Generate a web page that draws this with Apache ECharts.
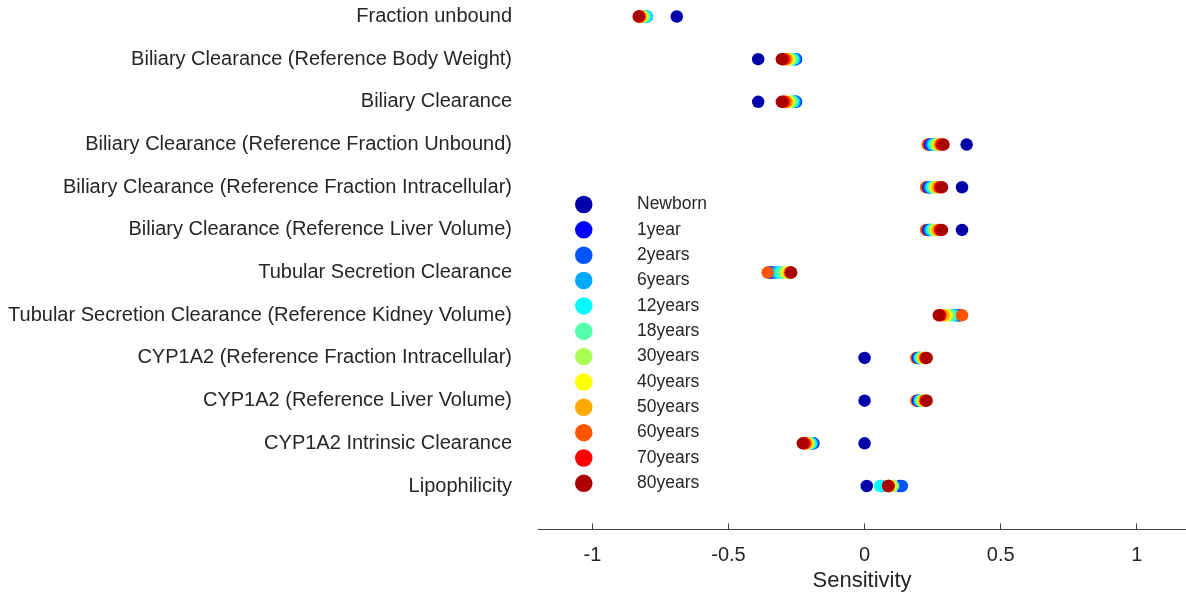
<!DOCTYPE html>
<html>
<head>
<meta charset="utf-8">
<script src="https://cdn.jsdelivr.net/npm/echarts@6/dist/echarts.min.js"></script>
<style>
  html, body { margin: 0; padding: 0; background: #ffffff; }
  #chart { width: 1186px; height: 595px; }
</style>
</head>
<body>
<div id="chart"></div>
<script>
// Parameters, listed top to bottom
const parameters = [
  'Fraction unbound',
  'Biliary Clearance (Reference Body Weight)',
  'Biliary Clearance',
  'Biliary Clearance (Reference Fraction Unbound)',
  'Biliary Clearance (Reference Fraction Intracellular)',
  'Biliary Clearance (Reference Liver Volume)',
  'Tubular Secretion Clearance',
  'Tubular Secretion Clearance (Reference Kidney Volume)',
  'CYP1A2 (Reference Fraction Intracellular)',
  'CYP1A2 (Reference Liver Volume)',
  'CYP1A2 Intrinsic Clearance',
  'Lipophilicity'
];

// Age groups and their colours
const ageGroups = ['Newborn', '1year', '2years', '6years', '12years', '18years',
                   '30years', '40years', '50years', '60years', '70years', '80years'];
const ageColors = ['#0000aa', '#0000ff', '#0055ff', '#00aaff', '#00ffff', '#55ffaa',
                   '#aaff55', '#ffff00', '#ffaa00', '#ff5500', '#ff0000', '#aa0000'];

// Sensitivity per age group, one value per parameter (same order as `parameters`)
const sNewborn = [-0.690, -0.391, -0.391, 0.375, 0.358, 0.358, -0.350, 0.350, 0.000, 0.000, 0.000, 0.008];
const s1year   = [-0.806, -0.252, -0.252, 0.240, 0.234, 0.234, -0.343, 0.345, 0.196, 0.196, -0.188, 0.130];
const s2years  = [-0.801, -0.254, -0.254, 0.245, 0.238, 0.238, -0.333, 0.340, 0.199, 0.199, -0.190, 0.137];
const s6years  = [-0.800, -0.258, -0.258, 0.250, 0.243, 0.243, -0.322, 0.333, 0.202, 0.202, -0.194, 0.062];
const s12years = [-0.803, -0.263, -0.263, 0.255, 0.248, 0.248, -0.312, 0.325, 0.205, 0.205, -0.198, 0.057];
const s18years = [-0.810, -0.268, -0.268, 0.260, 0.253, 0.253, -0.302, 0.315, 0.208, 0.208, -0.202, 0.105];
const s30years = [-0.815, -0.274, -0.274, 0.265, 0.258, 0.258, -0.292, 0.305, 0.212, 0.212, -0.206, 0.100];
const s40years = [-0.820, -0.280, -0.280, 0.270, 0.263, 0.263, -0.283, 0.297, 0.216, 0.216, -0.210, 0.095];
const s50years = [-0.824, -0.286, -0.286, 0.275, 0.268, 0.268, -0.277, 0.290, 0.220, 0.220, -0.214, 0.090];
const s60years = [-0.826, -0.292, -0.292, 0.232, 0.226, 0.226, -0.356, 0.358, 0.190, 0.190, -0.218, 0.088];
const s70years = [-0.828, -0.298, -0.298, 0.282, 0.277, 0.277, -0.272, 0.278, 0.224, 0.224, -0.222, 0.087];
const s80years = [-0.830, -0.304, -0.304, 0.290, 0.284, 0.284, -0.270, 0.273, 0.228, 0.228, -0.227, 0.087];

const sensitivities = [sNewborn, s1year, s2years, s6years, s12years, s18years,
                       s30years, s40years, s50years, s60years, s70years, s80years];

// Rows in which the 60years marker sits underneath the other age groups
const rowsDrawnBeneath60 = [3, 4, 5, 8, 9];

// Sensitivity axis ticks
const xTicks = [-1, -0.5, 0, 0.5, 1];

const textColor = '#262626';
const fontFamily = '"Liberation Sans", Arial, Helvetica, sans-serif';

function scatterSeries(name, color, values, rowFilter, z) {
  const data = [];
  values.forEach((v, j) => {
    if (rowFilter(j)) data.push([v, parameters[j]]);
  });
  return {
    name: name,
    type: 'scatter',
    symbol: 'circle',
    symbolSize: 12.5,
    z: z,
    itemStyle: { color: color, opacity: 1 },
    emphasis: { disabled: true },
    data: data
  };
}

const series = [];
ageGroups.forEach((name, i) => {
  if (name === '60years') {
    series.push(scatterSeries(name, ageColors[i], sensitivities[i],
      j => rowsDrawnBeneath60.indexOf(j) < 0, 2));
    series.push(scatterSeries(name, ageColors[i], sensitivities[i],
      j => rowsDrawnBeneath60.indexOf(j) >= 0, 1));
  } else {
    series.push(scatterSeries(name, ageColors[i], sensitivities[i], () => true, 2));
  }
});

const chart = echarts.init(document.getElementById('chart'), null, { renderer: 'canvas' });
chart.setOption({
  animation: false,
  backgroundColor: '#ffffff',
  textStyle: { fontFamily: fontFamily, color: textColor },
  grid: { left: 538, right: 0, top: 16.5, bottom: 109, containLabel: false,
          outerBoundsMode: 'none' },
  legend: {
    orient: 'vertical',
    left: 575,
    top: 195.5,
    padding: 0,
    icon: 'circle',
    itemWidth: 17.5,
    itemHeight: 17.5,
    itemGap: 7.35,
    selectedMode: false,
    data: ageGroups,
    textStyle: {
      fontFamily: fontFamily,
      fontSize: 17.5,
      lineHeight: 17.5,
      color: textColor,
      padding: [0, 0, 0, 39.5]
    }
  },
  xAxis: {
    type: 'value',
    min: -1.2,
    max: 1.181,
    offset: 43.5,
    name: 'Sensitivity',
    nameLocation: 'middle',
    nameGap: 37,
    nameTextStyle: { fontFamily: fontFamily, fontSize: 22, color: textColor },
    splitLine: { show: false },
    axisLine: { show: true, lineStyle: { color: '#404040', width: 1 } },
    axisTick: { show: true, inside: true, length: 6, customValues: xTicks,
                lineStyle: { color: '#404040', width: 1 } },
    axisLabel: { customValues: xTicks, margin: 16, fontSize: 20,
                 fontFamily: fontFamily, color: textColor }
  },
  yAxis: {
    type: 'category',
    inverse: true,
    data: parameters,
    boundaryGap: false,
    axisLine: { show: false },
    axisTick: { show: false },
    splitLine: { show: false },
    axisLabel: { margin: 26, fontSize: 20, fontFamily: fontFamily, color: textColor }
  },
  series: series
});
</script>
</body>
</html>
